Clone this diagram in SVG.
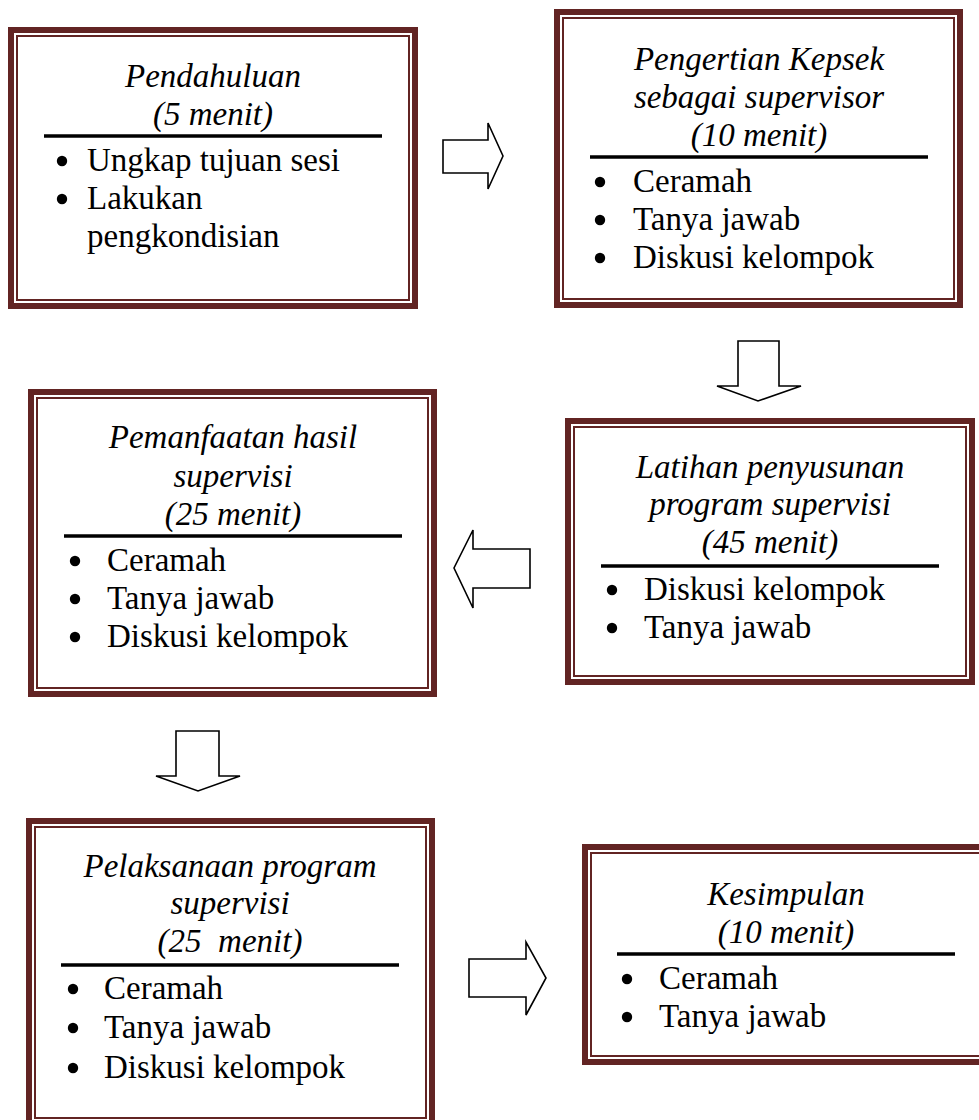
<svg xmlns="http://www.w3.org/2000/svg" width="979" height="1120" viewBox="0 0 979 1120">
<style>
.thick{fill:none;stroke:#622423;stroke-width:6}
.thin{fill:none;stroke:#622423;stroke-width:2}
.rule{stroke:#000;stroke-width:3.5}
.t{font-family:"Liberation Serif","Times New Roman",serif;font-size:33px;fill:#000}
.ti{font-family:"Liberation Serif","Times New Roman",serif;font-size:33px;font-style:italic;fill:#000;text-anchor:middle}
.arrow{fill:#fff;stroke:#000;stroke-width:1.6;stroke-linejoin:miter}
circle{fill:#000}
</style>
<rect width="979" height="1120" fill="#fff"/>
<g id="connectors">
<polygon class="arrow" points="443,140 488,140 488,123 503,156 488,189 488,173 443,173"/>
<polygon class="arrow" points="738,341 779,341 779,386 801,386 758,401 717,386 738,386"/>
<polygon class="arrow" points="530,549 473,549 473,530 454,568 473,608 473,588 530,588"/>
<polygon class="arrow" points="176,731 219,731 219,776 240,776 198,791 156,776 176,776"/>
<polygon class="arrow" points="469,959 526,959 526,942 546,978 526,1015 526,997 469,997"/>
</g>
<g id="node-pendahuluan">
<rect class="thick" x="11" y="30" width="404" height="276"/>
<rect class="thin" x="17" y="36" width="392" height="264"/>
<text class="ti" x="213" y="87">Pendahuluan</text>
<text class="ti" x="213" y="125">(5 menit)</text>
<line class="rule" x1="44" y1="136" x2="382" y2="136"/>
<circle cx="62" cy="161" r="5.2"/>
<text class="t" x="87" y="171">Ungkap tujuan sesi</text>
<circle cx="62" cy="199" r="5.2"/>
<text class="t" x="87" y="209">Lakukan</text>
<text class="t" x="87" y="247">pengkondisian</text>
</g>
<g id="node-pengertian">
<rect class="thick" x="557" y="12" width="403" height="293"/>
<rect class="thin" x="563" y="18" width="391" height="281"/>
<text class="ti" x="759" y="70">Pengertian Kepsek</text>
<text class="ti" x="759" y="108">sebagai supervisor</text>
<text class="ti" x="759" y="146">(10 menit)</text>
<line class="rule" x1="590" y1="157" x2="928" y2="157"/>
<circle cx="600" cy="182" r="5.2"/>
<text class="t" x="633" y="192">Ceramah</text>
<circle cx="600" cy="220" r="5.2"/>
<text class="t" x="633" y="230">Tanya jawab</text>
<circle cx="600" cy="258" r="5.2"/>
<text class="t" x="633" y="268">Diskusi kelompok</text>
</g>
<g id="node-latihan">
<rect class="thick" x="568" y="421" width="404" height="261"/>
<rect class="thin" x="574" y="427" width="392" height="249"/>
<text class="ti" x="770" y="478">Latihan penyusunan</text>
<text class="ti" x="770" y="515">program supervisi</text>
<text class="ti" x="770" y="553">(45 menit)</text>
<line class="rule" x1="601" y1="566" x2="939" y2="566"/>
<circle cx="612" cy="590" r="5.2"/>
<text class="t" x="644" y="600">Diskusi kelompok</text>
<circle cx="612" cy="628" r="5.2"/>
<text class="t" x="644" y="638">Tanya jawab</text>
</g>
<g id="node-pemanfaatan">
<rect class="thick" x="31" y="392" width="403" height="302"/>
<rect class="thin" x="37" y="398" width="391" height="290"/>
<text class="ti" x="233" y="448">Pemanfaatan hasil</text>
<text class="ti" x="233" y="487">supervisi</text>
<text class="ti" x="233" y="525">(25 menit)</text>
<line class="rule" x1="64" y1="536" x2="402" y2="536"/>
<circle cx="75" cy="561" r="5.2"/>
<text class="t" x="107" y="571">Ceramah</text>
<circle cx="75" cy="599" r="5.2"/>
<text class="t" x="107" y="609">Tanya jawab</text>
<circle cx="75" cy="637" r="5.2"/>
<text class="t" x="107" y="647">Diskusi kelompok</text>
</g>
<g id="node-pelaksanaan">
<rect class="thick" x="29" y="821" width="403" height="304"/>
<rect class="thin" x="35" y="827" width="391" height="291"/>
<text class="ti" x="230" y="877">Pelaksanaan program</text>
<text class="ti" x="230" y="914">supervisi</text>
<text class="ti" x="230" y="952" xml:space="preserve">(25  menit)</text>
<line class="rule" x1="61" y1="965" x2="399" y2="965"/>
<circle cx="73" cy="989" r="5.2"/>
<text class="t" x="104" y="999">Ceramah</text>
<circle cx="73" cy="1028" r="5.2"/>
<text class="t" x="104" y="1038">Tanya jawab</text>
<circle cx="73" cy="1068" r="5.2"/>
<text class="t" x="104" y="1078">Diskusi kelompok</text>
</g>
<g id="node-kesimpulan">
<rect class="thick" x="585" y="847" width="400" height="215"/>
<rect class="thin" x="591" y="853" width="392" height="203"/>
<text class="ti" x="786" y="905">Kesimpulan</text>
<text class="ti" x="786" y="943">(10 menit)</text>
<line class="rule" x1="617" y1="954" x2="955" y2="954"/>
<circle cx="627" cy="979" r="5.2"/>
<text class="t" x="659" y="989">Ceramah</text>
<circle cx="627" cy="1017" r="5.2"/>
<text class="t" x="659" y="1027">Tanya jawab</text>
</g>
</svg>
